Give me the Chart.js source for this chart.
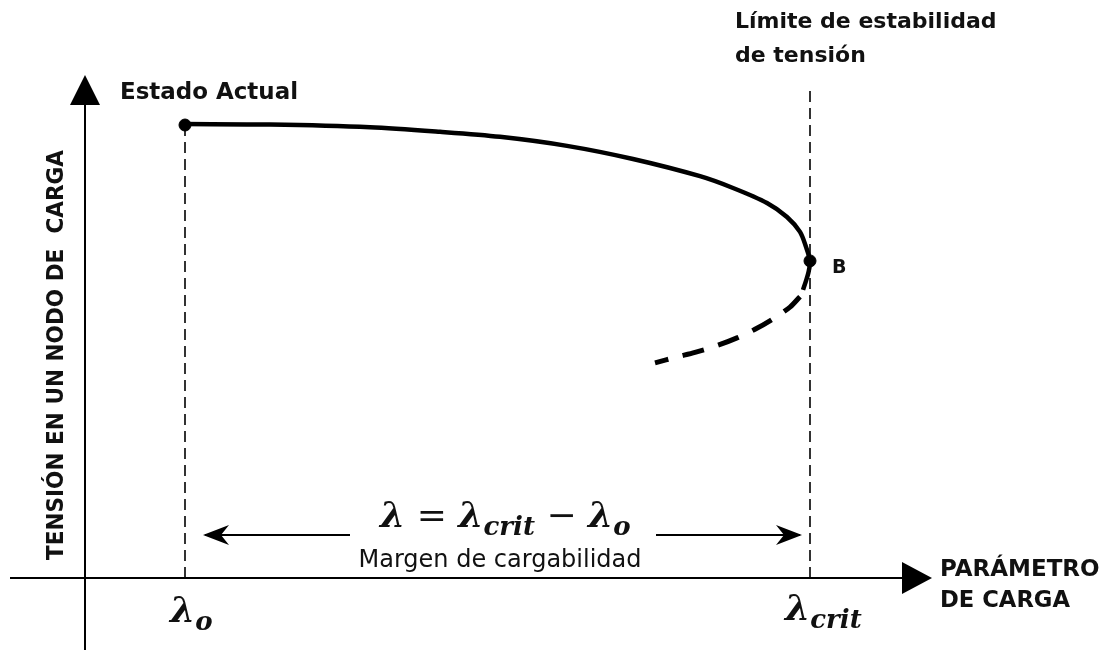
<!DOCTYPE html>
<html>
<head>
<meta charset="utf-8">
<script src="https://cdn.jsdelivr.net/npm/chart.js@4.4.1/dist/chart.umd.min.js"></script>
<style>
  html, body { margin: 0; padding: 0; background: #fff; }
  #caja { width: 1107px; height: 650px; }
</style>
</head>
<body>
<div id="caja"><canvas id="curvaPV"></canvas></div>
<script>
// parámetro de carga (λ) y tensión en p.u.
const lambdaO = 0.2;
const lambdaCrit = 1.45;
const tensionInicial = 1.0;
const tensionLimite = 0.700;
const alturaGuia = 1.088;

const ramaEstableX = [0.20, 0.37, 0.57, 0.71, 0.83, 0.964, 1.096, 1.23, 1.296, 1.364, 1.404, 1.43, 1.442, 1.45, 1.447, 1.442, 1.436];
const ramaEstableV = [1.002, 1.001, 0.995, 0.985, 0.974, 0.954, 0.925, 0.887, 0.861, 0.828, 0.797, 0.764, 0.731, 0.700, 0.675, 0.656, 0.636];

const ramaInestableX = [1.43, 1.41, 1.376, 1.34, 1.304, 1.264, 1.22, 1.184, 1.14];
const ramaInestableV = [0.621, 0.598, 0.572, 0.549, 0.530, 0.513, 0.498, 0.488, 0.475];

function puntos(xs, ys) {
    return xs.map(function (x, i) { return { x: x, y: ys[i] }; });
}

const FUENTE = '"DejaVu Sans", Verdana, sans-serif';
const SERIF = '"DejaVu Serif", "Liberation Serif", serif';

function lambdaConSub(ctx, x, y, sub, tam) {
    ctx.font = "bold italic " + tam + "px " + SERIF;
    ctx.fillText("λ", x, y);
    const w = ctx.measureText("λ").width;
    ctx.font = "bold italic " + Math.round(tam * 0.72) + "px " + SERIF;
    ctx.fillText(sub, x + w, y + tam * 0.22);
    return w + ctx.measureText(sub).width;
}

const dibujos = {
    id: "dibujos",
    afterDatasetsDraw(chart) {
        const ctx = chart.ctx;
        const xs = chart.scales.x;
        const ys = chart.scales.y;
        const x0 = xs.getPixelForValue(0);
        const y0 = ys.getPixelForValue(0);
        const xO = xs.getPixelForValue(lambdaO);
        const xC = xs.getPixelForValue(lambdaCrit);

        ctx.save();
        ctx.strokeStyle = "#000";
        ctx.fillStyle = "#000";
        ctx.lineWidth = 2;

        // ejes
        ctx.beginPath();
        ctx.moveTo(10, y0);
        ctx.lineTo(905, y0);
        ctx.moveTo(x0, 650);
        ctx.lineTo(x0, 100);
        ctx.stroke();
        ctx.beginPath();
        ctx.moveTo(932, y0);
        ctx.lineTo(902, y0 - 16);
        ctx.lineTo(902, y0 + 16);
        ctx.closePath();
        ctx.fill();
        ctx.beginPath();
        ctx.moveTo(x0, 75);
        ctx.lineTo(x0 - 15, 105);
        ctx.lineTo(x0 + 15, 105);
        ctx.closePath();
        ctx.fill();

        // flecha doble del margen
        const yf = y0 - 43;
        ctx.lineWidth = 1.8;
        ctx.beginPath();
        ctx.moveTo(xO + 20, yf);
        ctx.lineTo(350, yf);
        ctx.moveTo(656, yf);
        ctx.lineTo(xC - 10, yf);
        ctx.stroke();
        function punta(xp, dir) {
            ctx.beginPath();
            ctx.moveTo(xp, yf);
            ctx.lineTo(xp + dir * 26, yf - 10);
            ctx.lineTo(xp + dir * 18, yf);
            ctx.lineTo(xp + dir * 26, yf + 10);
            ctx.closePath();
            ctx.fill();
        }
        punta(xO + 18, 1);
        punta(xC - 8, -1);

        // textos
        ctx.fillStyle = "#111";
        ctx.textBaseline = "alphabetic";
        ctx.textAlign = "left";
        ctx.font = "bold 23px " + FUENTE;
        ctx.fillText("Estado Actual", 120, 99, 178);
        ctx.font = "bold 22px " + FUENTE;
        ctx.fillText("Límite de estabilidad", 735, 28, 265);
        ctx.fillText("de tensión", 735, 62, 136);
        ctx.font = "bold 19px " + FUENTE;
        ctx.fillText("B", 832, 273);
        ctx.font = "bold 23px " + FUENTE;
        ctx.fillText("PARÁMETRO", 940, 576, 160);
        ctx.fillText("DE CARGA", 940, 607, 130);

        ctx.font = "24px " + FUENTE;
        ctx.textAlign = "center";
        ctx.fillText("Margen de cargabilidad", 500, 567, 303);

        ctx.save();
        ctx.translate(63, 355);
        ctx.rotate(-Math.PI / 2);
        ctx.font = "bold 23px " + FUENTE;
        ctx.fillText("TENSIÓN EN UN NODO DE  CARGA", 0, 0, 410);
        ctx.restore();

        // fórmula
        ctx.textAlign = "left";
        let xt = 380;
        const yb = 527;
        ctx.font = "bold italic 36px " + SERIF;
        ctx.fillText("λ", xt, yb);
        xt += ctx.measureText("λ").width;
        ctx.font = "36px " + SERIF;
        ctx.fillText(" = ", xt, yb);
        xt += ctx.measureText(" = ").width;
        xt += lambdaConSub(ctx, xt, yb, "crit", 36);
        ctx.font = "36px " + SERIF;
        ctx.fillText(" − ", xt, yb);
        xt += ctx.measureText(" − ").width;
        lambdaConSub(ctx, xt, yb, "o", 36);

        lambdaConSub(ctx, xO - 15, 622, "o", 36);
        lambdaConSub(ctx, xC - 25, 620, "crit", 36);
        ctx.restore();
    }
};

new Chart(document.getElementById("curvaPV").getContext("2d"), {
    type: "scatter",
    data: {
        datasets: [
            {
                data: [{ x: lambdaO, y: 0 }, { x: lambdaO, y: tensionInicial }],
                showLine: true, borderColor: "#000", borderWidth: 1.6,
                borderDash: [11, 6], pointRadius: 0,
            },
            {
                data: [{ x: lambdaCrit, y: 0 }, { x: lambdaCrit, y: alturaGuia }],
                showLine: true, borderColor: "#000", borderWidth: 1.6,
                borderDash: [11, 6], pointRadius: 0,
            },
            {
                data: puntos(ramaEstableX, ramaEstableV),
                showLine: true, borderColor: "#000", borderWidth: 4.5,
                tension: 0.3, pointRadius: 0,
            },
            {
                data: puntos(ramaInestableX, ramaInestableV),
                showLine: true, borderColor: "#000", borderWidth: 5,
                borderDash: [22, 15], tension: 0.3, pointRadius: 0,
            },
            {
                data: [{ x: lambdaO, y: tensionInicial }, { x: lambdaCrit, y: tensionLimite }],
                showLine: false, pointRadius: 6, pointBackgroundColor: "#000",
                pointBorderColor: "#000",
            },
        ],
    },
    options: {
        responsive: true,
        maintainAspectRatio: false,
        animation: false,
        layout: { padding: 0, autoPadding: false },
        plugins: { legend: { display: false }, tooltip: { enabled: false } },
        scales: {
            x: { type: "linear", min: -0.17, max: 2.044, display: false },
            y: { type: "linear", min: -0.159, max: 1.276, display: false },
        },
    },
    plugins: [dibujos],
});
</script>
</body>
</html>
